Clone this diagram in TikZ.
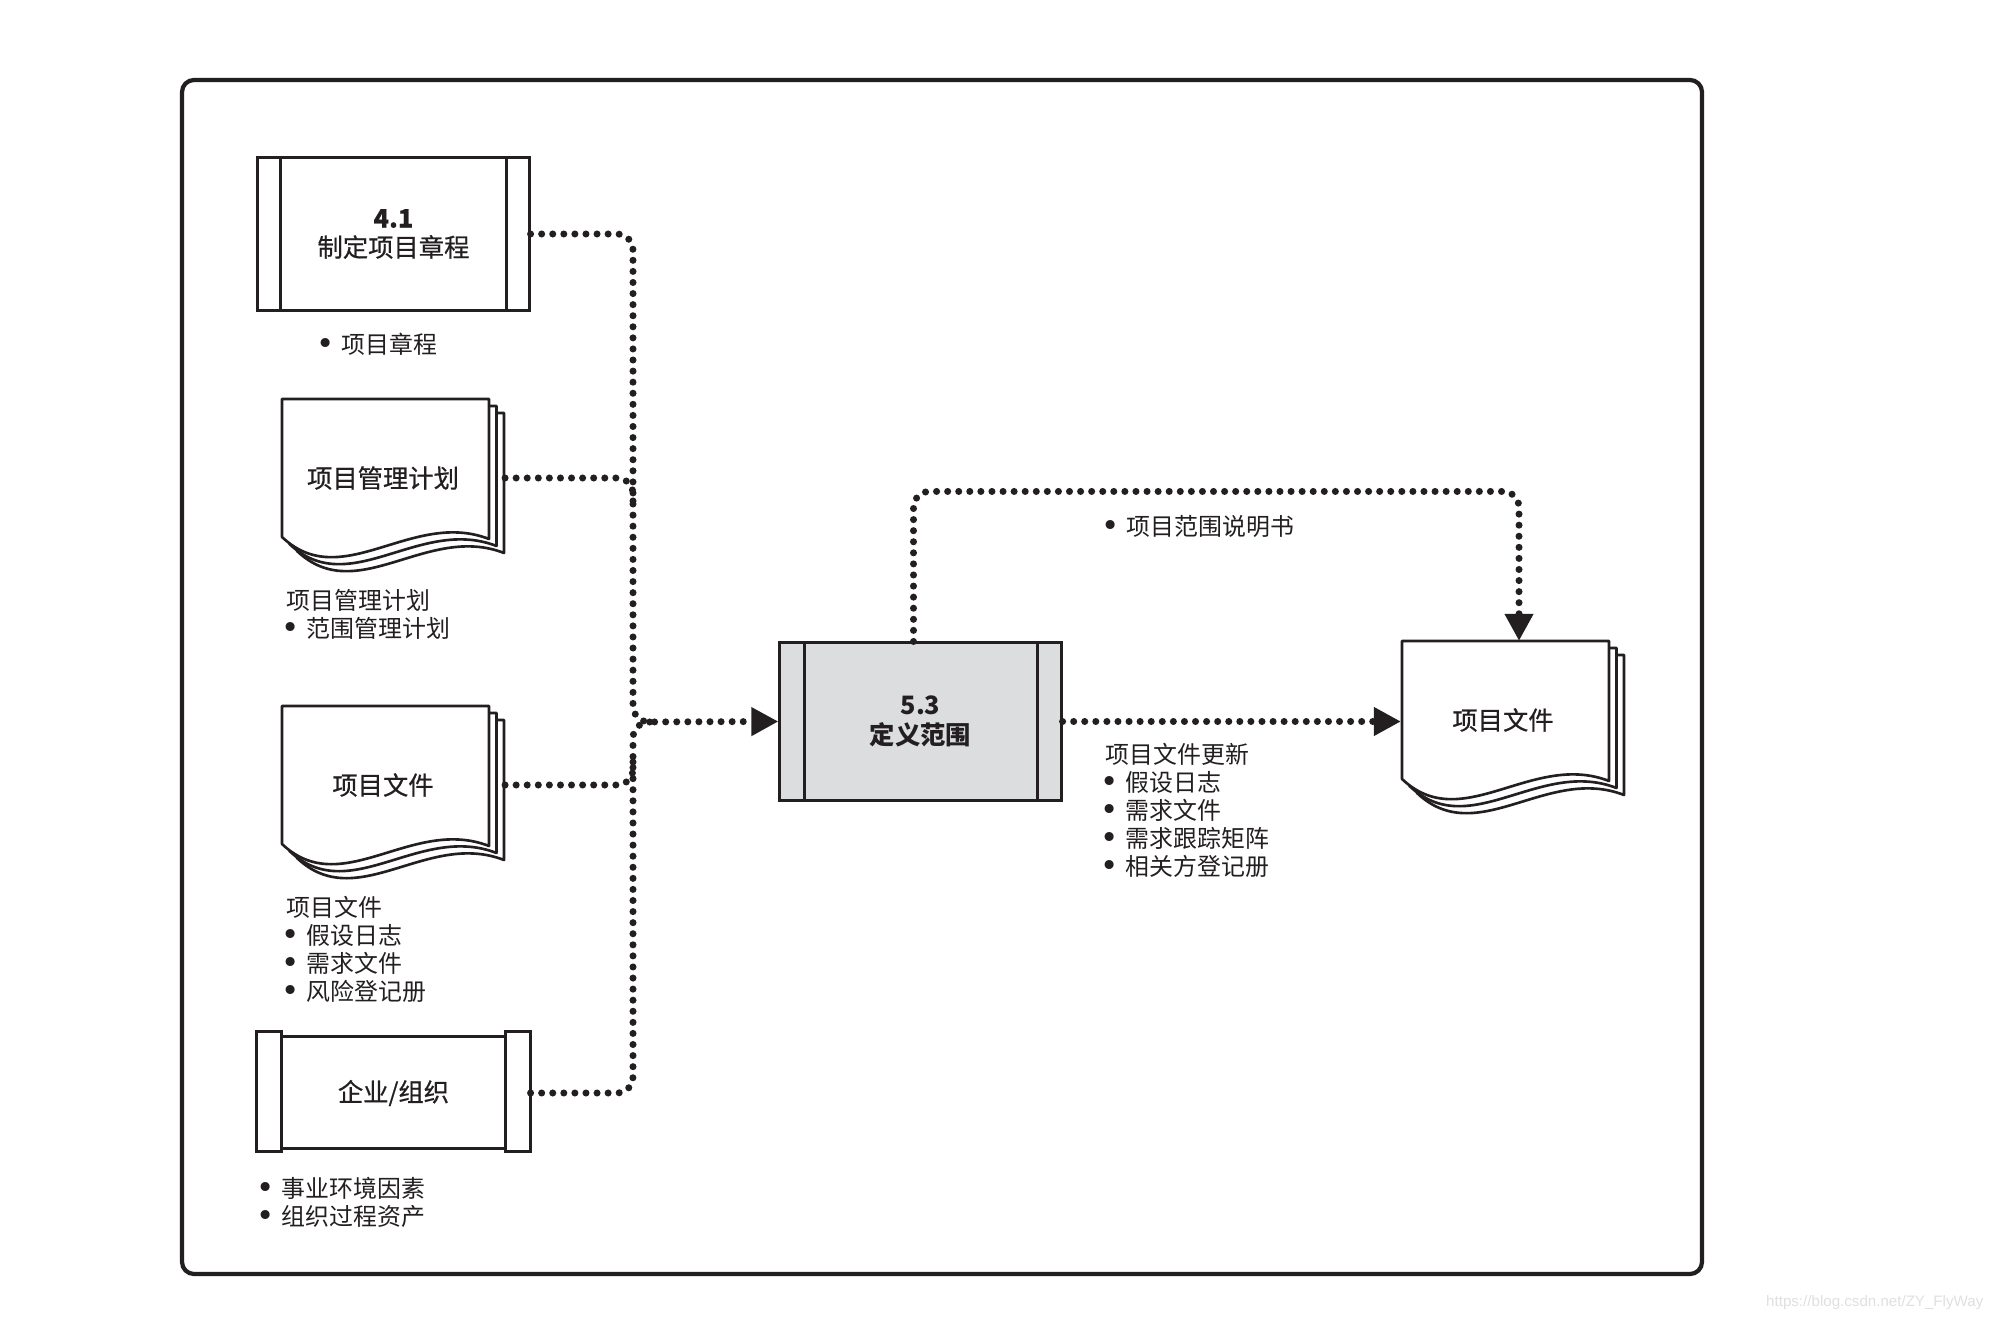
\documentclass[tikz,border=0pt]{standalone}
\usepackage{fontspec}
\setmainfont{Noto Sans CJK SC}
\newfontfamily\medfont[FakeBold=0.6]{Noto Sans CJK SC}
\newfontfamily\wmfont{Liberation Sans}
\newfontfamily\dvfont{DejaVu Sans}
\usetikzlibrary{arrows.meta}
\definecolor{ink}{HTML}{231F20}
\definecolor{boxgray}{HTML}{DCDDDF}
\newcommand\bl{\makebox[0.2cm][l]{\hspace{-0.05cm}\raisebox{-0.4pt}{\dvfont\fontsize{8.8pt}{8pt}\selectfont •}}}
\newcommand\docpages[1]{%
 \begin{scope}[shift={(#1)}]
  \foreach \dx/\dy in {15/14,7.5/7,0/0}{
   \draw[pageline] (\dx-101,\dy-79) -- (\dx+106,\dy-79) -- (\dx+106,\dy+61)
     .. controls (\dx+29,\dy+31) and (\dx-41,\dy+116) .. (\dx-101,\dy+59) -- cycle;
  }
 \end{scope}}
\tikzset{
 pageline/.style={draw=ink, line width=0.75pt, fill=white, line join=round},
 boxline/.style={draw=ink, line width=0.85pt},
 procbox/.style={boxline, minimum width=2.71cm, minimum height=1.52cm, inner sep=0pt, align=center, text=ink, font=\medfont\fontsize{7.2pt}{8.3pt}\selectfont},
 doctext/.style={inner sep=0pt, text=ink, font=\medfont\fontsize{7.2pt}{8.3pt}\selectfont},
 lbl/.style={inner sep=0pt, anchor=west, align=left, text=ink, font=\fontsize{6.8pt}{7.95pt}\selectfont},
 flow/.style={draw=ink, line width=2pt, dash pattern=on 0pt off 3.15pt, line cap=round, rounded corners=0.16cm},
 flowtip/.style={-{Triangle[length=0.27cm,width=0.27cm]}},
}
\begin{document}
\begin{tikzpicture}[x=0.01cm,y=-0.01cm]
\useasboundingbox (0,0) rectangle (1994,1322);
\fill[white] (0,0) rectangle (1994,1322);
% outer frame
\draw[draw=ink, line width=1.2pt, rounded corners=0.12cm] (182,80) rectangle (1702,1274);

% documents
\docpages{383,478}
\node[doctext] (doc1) at (383,478) {项目管理计划};
\docpages{383,785}
\node[doctext] (doc2) at (383,785) {项目文件};
\docpages{1503,720}
\node[doctext] (doc3) at (1503,720) {项目文件};
\coordinate (d3w) at ([xshift=-1.02cm]doc3.center);
\coordinate (d3n) at ([xshift=0.16cm,yshift=0.79cm]doc3.center);

% process boxes
\node[procbox] (p41) at (393.5,234) {{\bfseries 4.1}\\制定项目章程};
\draw[boxline] ([xshift=0.245cm]p41.north west) -- ([xshift=0.245cm]p41.south west);
\draw[boxline] ([xshift=-0.245cm]p41.north east) -- ([xshift=-0.245cm]p41.south east);

\node[procbox, fill=boxgray, minimum width=2.81cm, minimum height=1.57cm, font=\bfseries\fontsize{7.2pt}{8.5pt}\selectfont] (p53) at (920.5,721.5) {5.3\\定义范围};
\draw[boxline] ([xshift=0.26cm]p53.north west) -- ([xshift=0.26cm]p53.south west);
\draw[boxline] ([xshift=-0.25cm]p53.north east) -- ([xshift=-0.25cm]p53.south east);

\node[procbox, draw=none, minimum height=1.2cm] (porg) at (393.5,1093) {企业/组织};
\draw[boxline] (porg.north west) rectangle ++(25,120);
\draw[boxline] (porg.north east) rectangle ++(-25,120);
\draw[boxline] ([xshift=0.25cm,yshift=-0.05cm]porg.north west) rectangle ([xshift=-0.25cm,yshift=0.06cm]porg.south east);

% labels
\node[lbl] (l41) at (321,344) {\bl 项目章程};
\node[lbl] (ld1) at (286,614) {项目管理计划\\\bl 范围管理计划};
\node[lbl] (ld2) at (286,949) {项目文件\\\bl 假设日志\\\bl 需求文件\\\bl 风险登记册};
\node[lbl] (lorg) at (261,1202) {\bl 事业环境因素\\\bl 组织过程资产};
\node[lbl] (lscope) at (1106,526) {\bl 项目范围说明书};
\node[lbl] (lout) at (1105,810) {项目文件更新\\\bl 假设日志\\\bl 需求文件\\\bl 需求跟踪矩阵\\\bl 相关方登记册};

% connectors
\coordinate (bus) at (633,722);
\draw[flow,flowtip] (p41.east) -| (bus) -- (p53.west);
\draw[flow] (porg.east) -| (bus) -- ++(20,0);
\draw[flow] ([xshift=1.22cm]doc1.center) -- (bus |- doc1.center) -- ++(0,30);
\draw[flow] ([xshift=1.22cm]doc2.center) -- (bus |- doc2.center) -- ++(0,-30);
\draw[flow,flowtip] (p53.east) -- (p53.east -| d3w);
\draw[flow,flowtip] ([xshift=-0.07cm]p53.north) -- ++(0,-150) -| (d3n);

% watermark
\node[font=\wmfont\fontsize{4.3pt}{5pt}\selectfont, text=black!12, anchor=east, inner sep=0pt] (wm) at (1984,1303) {https://blog.csdn.net/ZY\_FlyWay};
\end{tikzpicture}
\end{document}
